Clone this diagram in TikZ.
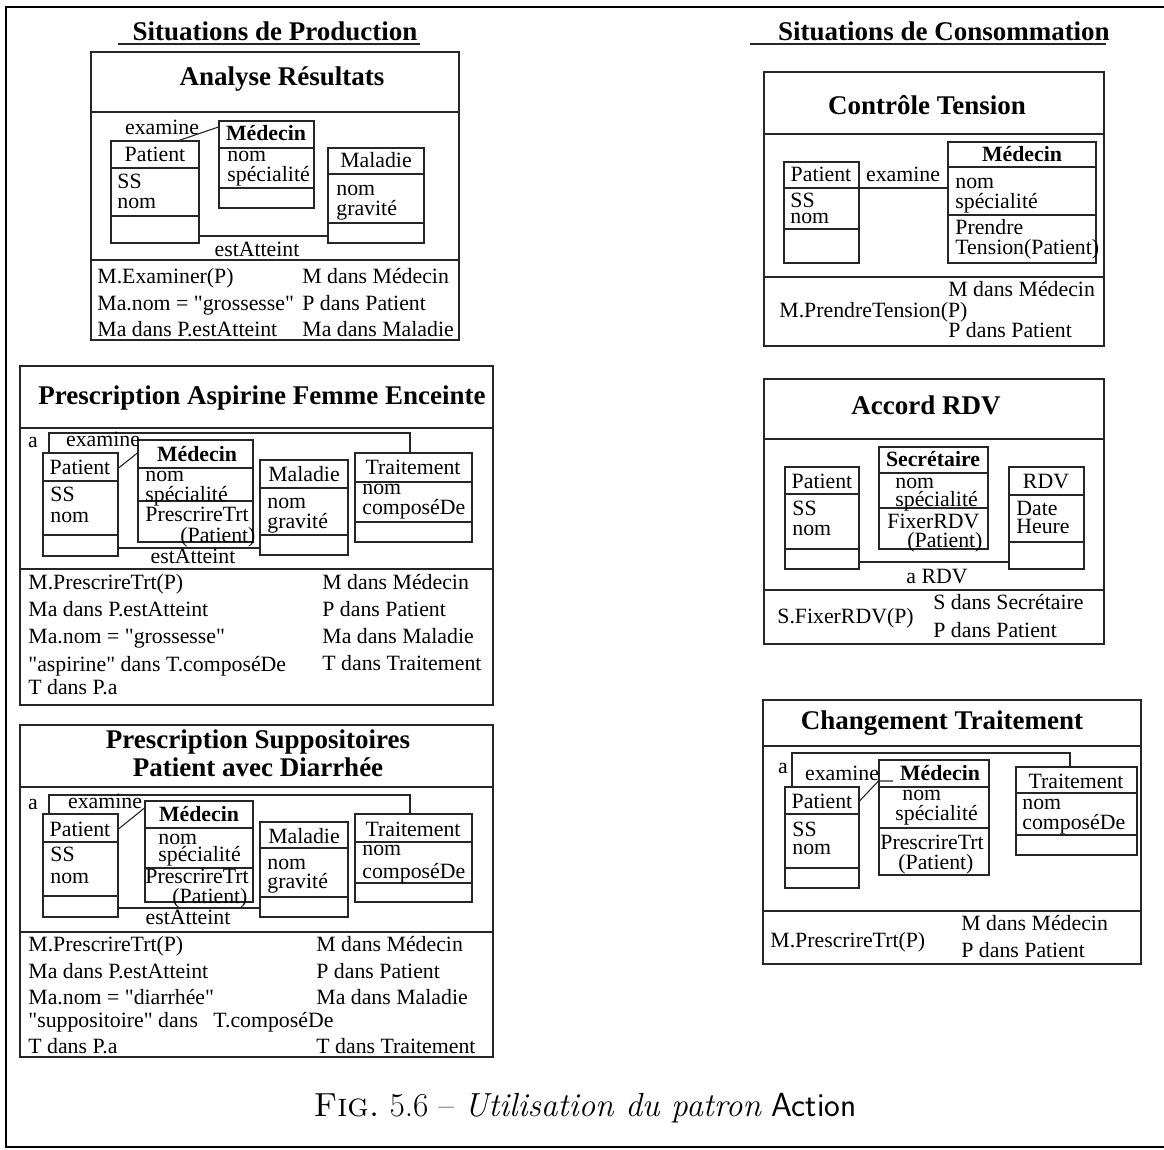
\documentclass[tikz,border=0pt]{standalone}
\usepackage{fontspec}
\newfontfamily\tnr{Liberation Serif}
\usetikzlibrary{fit}

% class box: name, x1, y1, x2, y2, list of compartment rules
\newcommand\umlclass[6]{%
  \node[cls, fit={(#2,#3) (#4,#5)}] (#1) {};
  \foreach \yy in {#6} {\draw[sepline] (#2,\yy) -- (#4,\yy);}
}
% text helpers: left-aligned, centred and bold centred labels
\newcommand\putL[4]{\node[lt] (#1) at (#2,#3) {#4};}
\newcommand\putC[4]{\node[txt] (#1) at (#2,#3) {#4};}
\newcommand\putB[4]{\node[bt] (#1) at (#2,#3) {#4};}

\begin{document}
\begin{tikzpicture}[x=0.5pt,y=-0.5pt,
  outframe/.style={line width=1.1pt},
  panel/.style={draw=black!85, line width=0.8pt, inner sep=0pt},
  cls/.style={draw=black!85, line width=0.55pt, inner sep=0pt},
  sepline/.style={draw=black!85, line width=0.55pt},
  conn/.style={draw=black!85, line width=0.55pt},
  txt/.style={font=\tnr\fontsize{10.9}{13}\selectfont, inner sep=0pt, text height=9pt, text depth=2pt},
  lt/.style={txt, anchor=west},
  bt/.style={txt, font=\tnr\bfseries\fontsize{10.9}{13}\selectfont},
  ttl/.style={font=\tnr\bfseries\fontsize{13.5}{16}\selectfont, inner sep=0pt, align=center},
]
\useasboundingbox (0,0) rectangle (1164,1150);

% outer frame
\draw[outframe] (1164,7) -- (6,7) -- (6,1147) -- (1164,1147);

% column headings
\node[ttl] (hprod) at (275,31) {Situations de Production};
\draw[sepline] (118,44) -- (420,44);
\node[ttl] (hcons) at (944,31) {Situations de Consommation};
\draw[sepline] (750,44) -- (1106,44);

%% ---------- Analyse Résultats ----------
\node[panel, fit={(91,52) (459,340)}] (p1) {};
\node[ttl] (p1t) at (282,79) {Analyse Résultats};
\draw[sepline] (91,112) -- (459,112);
\draw[sepline] (91,260) -- (459,260);
\umlclass{p1pat}{111}{141}{199}{243}{168,216}
\umlclass{p1med}{219}{121}{314}{208}{148,188}
\umlclass{p1mal}{328}{148}{424}{243}{174,223}
\putC{p1patn}{155}{155}{Patient}
\putL{p1pa1}{117}{182}{SS}
\putL{p1pa2}{117}{202}{nom}
\putB{p1medn}{266}{134}{Médecin}
\putL{p1ma1}{227}{155}{nom}
\putL{p1ma2}{227}{175}{spécialité}
\putC{p1maln}{376}{161}{Maladie}
\putL{p1la1}{336}{189}{nom}
\putL{p1la2}{336}{209}{gravité}
\putC{p1ex}{162}{128}{examine}
\draw[conn] (p1pat.north -| 179,0) -- (p1med.west |- 0,127);
\draw[conn] (p1pat.east |- 0,236) -- (p1mal.west |- 0,236);
\putC{p1ea}{257}{250}{estAtteint}
\putL{p1c1}{97}{277}{M.Examiner(P)}
\putL{p1c2}{97}{304}{Ma.nom = "grossesse"}
\putL{p1c3}{97}{330}{Ma dans P.estAtteint}
\putL{p1d1}{302}{277}{M dans Médecin}
\putL{p1d2}{302}{304}{P dans Patient}
\putL{p1d3}{302}{330}{Ma dans Maladie}

%% ---------- Prescription Aspirine Femme Enceinte ----------
\node[panel, fit={(20,366) (493,705)}] (p2) {};
\node[ttl] (p2t) at (262,398) {Prescription Aspirine Femme Enceinte};
\draw[sepline] (20,428) -- (493,428);
\draw[sepline] (20,569) -- (493,569);
\umlclass{p2pat}{43}{453}{118}{556}{481,535}
\umlclass{p2med}{138}{440}{253}{542}{468,501}
\umlclass{p2mal}{260}{460}{348}{555}{488,535}
\umlclass{p2tra}{355}{453}{472}{542}{482,522}
\putC{p2a}{33}{441}{a}
\draw[conn] (p2pat.north -| 49,0) |- (410,433) -- (p2tra.north -| 410,0);
\putC{p2ex}{103}{440}{examine}
\draw[conn] (p2pat.east |- 0,468) -- (p2med.west |- 0,453);
\putC{p2patn}{80}{468}{Patient}
\putL{p2pa1}{50}{495}{SS}
\putL{p2pa2}{50}{516}{nom}
\putB{p2medn}{197}{455}{Médecin}
\putL{p2ma1}{145}{475}{nom}
\putL{p2ma2}{145}{495}{spécialité}
\putL{p2ma3}{145}{515}{PrescrireTrt}
\putL{p2ma4}{180}{536}{(Patient)}
\putC{p2maln}{304}{475}{Maladie}
\putL{p2la1}{267}{502}{nom}
\putL{p2la2}{267}{522}{gravité}
\putC{p2tran}{413}{468}{Traitement}
\putL{p2ta1}{362}{488}{nom}
\putL{p2ta2}{362}{508}{composéDe}
\draw[conn] (p2pat.east |- 0,548) -- (p2mal.west |- 0,548);
\putC{p2ea}{193}{557}{estAtteint}
\putL{p2c1}{28}{583}{M.PrescrireTrt(P)}
\putL{p2c2}{28}{610}{Ma dans P.estAtteint}
\putL{p2c3}{28}{637}{Ma.nom = "grossesse"}
\putL{p2c4}{28}{665}{"aspirine" dans T.composéDe}
\putL{p2c5}{28}{688}{T dans P.a}
\putL{p2d1}{322}{583}{M dans Médecin}
\putL{p2d2}{322}{610}{P dans Patient}
\putL{p2d3}{322}{637}{Ma dans Maladie}
\putL{p2d4}{322}{663}{T dans Traitement}

%% ---------- Prescription Suppositoires ----------
\node[panel, fit={(20,725) (493,1057)}] (p3) {};
\node[ttl] (p3t) at (258,753) {Prescription Suppositoires\\[-2pt]Patient avec Diarrhée};
\draw[sepline] (20,787) -- (493,787);
\draw[sepline] (20,932) -- (493,932);
\umlclass{p3pat}{43}{814}{118}{917}{842,896}
\umlclass{p3med}{145}{801}{253}{902}{828,868}
\umlclass{p3mal}{260}{822}{348}{917}{848,897}
\umlclass{p3tra}{355}{814}{472}{902}{842,883}
\putC{p3a}{33}{802}{a}
\draw[conn] (p3pat.north -| 49,0) |- (410,795) -- (p3tra.north -| 410,0);
\putC{p3ex}{105}{801}{examine}
\draw[conn] (p3pat.east |- 0,829) -- (p3med.west |- 0,808);
\putC{p3patn}{80}{829}{Patient}
\putL{p3pa1}{50}{855}{SS}
\putL{p3pa2}{50}{876}{nom}
\putB{p3medn}{199}{814}{Médecin}
\putL{p3ma1}{158}{837}{nom}
\putL{p3ma2}{158}{855}{spécialité}
\putL{p3ma3}{145}{876}{PrescrireTrt}
\putL{p3ma4}{172}{896}{(Patient)}
\putC{p3maln}{304}{836}{Maladie}
\putL{p3la1}{267}{863}{nom}
\putL{p3la2}{267}{881}{gravité}
\putC{p3tran}{413}{829}{Traitement}
\putL{p3ta1}{362}{849}{nom}
\putL{p3ta2}{362}{871}{composéDe}
\draw[conn] (p3pat.east |- 0,908) -- (p3mal.west |- 0,908);
\putC{p3ea}{188}{917}{estAtteint}
\putL{p3c1}{28}{944}{M.PrescrireTrt(P)}
\putL{p3c2}{28}{971}{Ma dans P.estAtteint}
\putL{p3c3}{28}{997}{Ma.nom = "diarrhée"}
\putL{p3c4}{28}{1020}{"suppositoire" dans}
\putL{p3c5}{213}{1020}{T.composéDe}
\putL{p3c6}{28}{1046}{T dans P.a}
\putL{p3d1}{316}{944}{M dans Médecin}
\putL{p3d2}{316}{971}{P dans Patient}
\putL{p3d3}{316}{997}{Ma dans Maladie}
\putL{p3d4}{316}{1046}{T dans Traitement}

%% ---------- Contrôle Tension ----------
\node[panel, fit={(764,72) (1104,346)}] (p4) {};
\node[ttl] (p4t) at (927,105) {Contrôle Tension};
\draw[sepline] (764,134) -- (1104,134);
\draw[sepline] (764,277) -- (1104,277);
\umlclass{p4pat}{784}{162}{859}{263}{188,229}
\umlclass{p4med}{948}{142}{1096}{263}{167,215}
\putC{p4patn}{821}{175}{Patient}
\putL{p4pa1}{790}{201}{SS}
\putL{p4pa2}{790}{217}{nom}
\putB{p4medn}{1022}{155}{Médecin}
\putL{p4ma1}{955}{182}{nom}
\putL{p4ma2}{955}{202}{spécialité}
\putL{p4ma3}{955}{228}{Prendre}
\putL{p4ma4}{955}{248}{Tension(Patient)}
\draw[conn] (p4pat.east |- 0,188) -- (p4med.west |- 0,188);
\putC{p4ex}{903}{175}{examine}
\putL{p4d1}{948}{290}{M dans Médecin}
\putL{p4c1}{779}{311}{M.PrendreTension(P)}
\putL{p4d2}{948}{331}{P dans Patient}

%% ---------- Accord RDV ----------
\node[panel, fit={(764,379) (1104,644)}] (p5) {};
\node[ttl] (p5t) at (926,405) {Accord RDV};
\draw[sepline] (764,439) -- (1104,439);
\draw[sepline] (764,590) -- (1104,590);
\umlclass{p5pat}{785}{467}{859}{569}{494,549}
\umlclass{p5sec}{879}{447}{988}{549}{473,508}
\umlclass{p5rdv}{1009}{467}{1084}{569}{495,542}
\putC{p5patn}{822}{482}{Patient}
\putL{p5pa1}{792}{509}{SS}
\putL{p5pa2}{792}{529}{nom}
\putB{p5secn}{933}{460}{Secrétaire}
\putL{p5sa1}{895}{482}{nom}
\putL{p5sa2}{895}{500}{spécialité}
\putL{p5sa3}{887}{522}{FixerRDV}
\putL{p5sa4}{907}{541}{(Patient)}
\putC{p5rdvn}{1046}{482}{RDV}
\putL{p5ra1}{1016}{509}{Date}
\putL{p5ra2}{1016}{527}{Heure}
\draw[conn] (p5pat.east |- 0,562) -- (p5rdv.west |- 0,562);
\putC{p5ar}{937}{577}{a RDV}
\putL{p5c1}{777}{617}{S.FixerRDV(P)}
\putL{p5d1}{933}{603}{S dans Secrétaire}
\putL{p5d2}{933}{631}{P dans Patient}

%% ---------- Changement Traitement ----------
\node[panel, fit={(763,700) (1141,964)}] (p6) {};
\node[ttl] (p6t) at (942,723) {Changement Traitement};
\draw[sepline] (763,746) -- (1141,746);
\draw[sepline] (763,911) -- (1141,911);
\umlclass{p6pat}{785}{787}{859}{888}{814,868}
\umlclass{p6med}{879}{760}{989}{875}{787,828}
\umlclass{p6tra}{1016}{767}{1137}{855}{793,835}
\putC{p6a}{783}{767}{a}
\draw[conn] (p6pat.north -| 792,0) |- (1070,753) -- (p6tra.north -| 1070,0);
\putC{p6ex}{842}{773}{examine}
\draw[conn] (p6pat.east |- 0,801) -- (p6med.west |- 0,781) -- (893,781);
\putC{p6patn}{822}{801}{Patient}
\putL{p6pa1}{792}{829}{SS}
\putL{p6pa2}{792}{848}{nom}
\putB{p6medn}{940}{773}{Médecin}
\putL{p6ma1}{902}{793}{nom}
\putL{p6ma2}{895}{813}{spécialité}
\putL{p6ma3}{880}{842}{PrescrireTrt}
\putL{p6ma4}{898}{862}{(Patient)}
\putC{p6tran}{1076}{781}{Traitement}
\putL{p6ta1}{1022}{802}{nom}
\putL{p6ta2}{1022}{822}{composéDe}
\putL{p6c1}{770}{940}{M.PrescrireTrt(P)}
\putL{p6d1}{961}{923}{M dans Médecin}
\putL{p6d2}{961}{950}{P dans Patient}

% caption
\node[font=\fontsize{16.7}{20}\selectfont, inner sep=0pt] (cap) at (585,1108)
  {\textsc{Fig.}\ 5.6 -- \textit{Utilisation du patron} \textsf{Action}};
\end{tikzpicture}
\end{document}
